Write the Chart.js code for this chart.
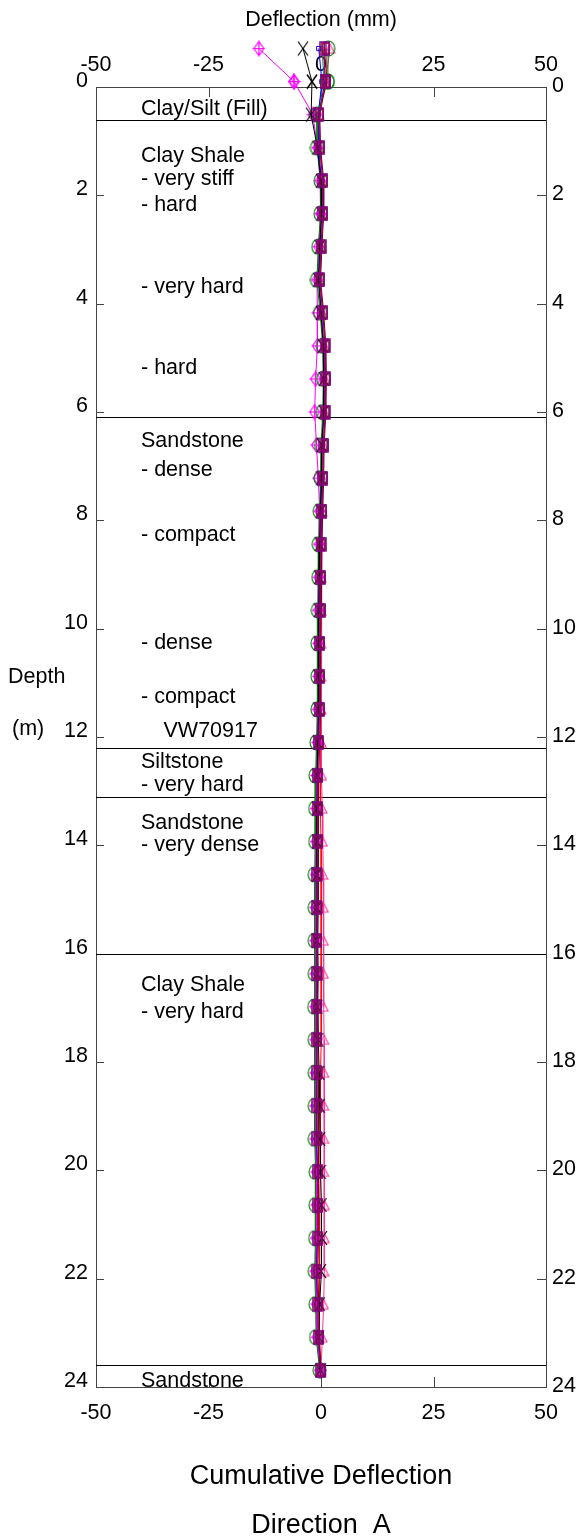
<!DOCTYPE html>
<html><head><meta charset="utf-8">
<script src="https://cdn.jsdelivr.net/npm/chart.js@4.4.1/dist/chart.umd.min.js"></script>
<style>html,body{margin:0;padding:0;background:#fff}#wrap{width:580px;height:1539px}</style>
</head><body><div id="wrap"><canvas id="c" width="580" height="1539"></canvas></div>
<script>
// ---------- data ----------
const depths = [-0.71,-0.10,0.51,1.12,1.73,2.34,2.95,3.56,4.17,4.78,5.39,6.00,6.61,7.22,7.83,8.44,9.05,9.66,10.27,10.88,11.49,12.10,12.71,13.32,13.93,14.54,15.15,15.76,16.37,16.98,17.59,18.20,18.81,19.42,20.03,20.64,21.25,21.86,22.47,23.08,23.69];
const xTickValues = [-50,-25,0,25,50];
const yTickValues = [0,2,4,6,8,10,12,14,16,18,20,22,24];
const layerBoundaries = [0.6,6.1,12.2,13.1,16.0,23.6];
const layerText  = ['Clay/Silt (Fill)','Clay Shale','- very stiff','- hard','- very hard','- hard','Sandstone','- dense','- compact','- dense','- compact','VW70917','Siltstone','- very hard','Sandstone','- very dense','Clay Shale','- very hard','Sandstone'];
const layerTextDepth = [0.51,1.385,1.80,2.29,3.81,5.30,6.65,7.19,8.39,10.38,11.38,12.0,12.58,13.0,13.70,14.10,16.69,17.19,24.0];
const layerTextX = [-40,-40,-40,-40,-40,-40,-40,-40,-40,-40,-40,-35,-40,-40,-40,-40,-40,-40,-40];

const seriesGreen  = [1.6,1.5,-0.9,-0.9,-0.1,-0.1,-0.6,-0.9,-0.2,0.4,0.5,0.4,0.0,-0.1,-0.3,-0.5,-0.6,-0.7,-0.8,-0.8,-0.8,-1.0,-1.2,-1.3,-1.3,-1.4,-1.4,-1.4,-1.4,-1.5,-1.4,-1.4,-1.4,-1.4,-1.2,-1.2,-1.3,-1.4,-1.2,-1.1,-0.3];
const seriesPurple = [0.8,0.9,-0.5,-0.3,0.4,0.4,0.0,-0.3,0.4,0.9,1.0,0.9,0.5,0.4,0.2,0.0,-0.1,-0.2,-0.3,-0.3,-0.3,-0.5,-0.7,-0.8,-0.8,-0.9,-0.9,-0.9,-0.9,-1.0,-0.9,-0.9,-0.9,-0.9,-0.7,-0.7,-0.8,-0.9,-0.7,-0.6,-0.1];
const seriesMaroon = [1.1,1.2,-0.3,-0.1,0.6,0.6,0.2,-0.1,0.6,1.1,1.2,1.1,0.7,0.6,0.4,0.2,0.1,0.0,-0.1,-0.1,-0.1,-0.3,-0.5,-0.6,-0.6,-0.6,-0.6,-0.7,-0.6,-0.7,-0.7,-0.6,-0.6,-0.6,-0.5,-0.5,-0.6,-0.7,-0.5,-0.4,0.0];
const seriesBlack  = [-4.0,-2.0,-2.2,-0.8,0.0,0.1,-0.3,-0.6,0.0,0.5,0.6,0.6,0.2,0.1,-0.1,-0.3,-0.4,-0.5,-0.5,-0.6,-0.6,-0.7,-0.8,-0.9,-0.9,-0.9,-0.9,-0.9,-0.8,-0.8,-0.6,-0.4,-0.3,-0.2,-0.1,0.1,0.2,0.0,-0.3,-0.5,-0.1];
const seriesMagenta= [-13.8,-6.0,-1.8,-0.8,-0.2,-0.1,-0.5,-0.9,-0.8,-0.8,-1.2,-1.4,-1.0,-0.6,-0.3,-0.4,-0.5,-0.6,-0.6,-0.6,-0.7,-0.8,-1.0,-1.1,-1.1,-1.1,-1.2,-1.2,-1.2,-1.3,-1.2,-1.2,-1.2,-1.2,-1.0,-1.0,-1.1,-1.2,-1.0,-0.9,-0.2];
const seriesPink   = [2.0,1.0,-0.4,-0.3,0.3,0.4,0.0,-0.3,0.3,0.8,0.9,0.8,0.5,0.4,0.3,0.2,0.1,0.0,0.0,0.0,0.1,0.1,0.2,0.3,0.4,0.5,0.6,0.6,0.6,0.6,0.7,0.7,0.7,0.7,0.7,0.8,0.8,0.7,0.6,0.3,0.0];
const seriesBlue   = [-0.5,0.2,-0.6,-0.5,0.1,0.2,-0.2,-0.4,0.2,0.7,0.7,0.7,0.3,0.2,0.0,-0.2,-0.3,-0.4,-0.5,-0.5,-0.5,-0.7,-0.9,-1.0,-1.0,-1.1,-1.1,-1.1,-1.1,-1.2,-1.1,-1.1,-1.1,-1.1,-0.9,-0.9,-1.0,-1.1,-0.9,-0.8,-0.2];
const seriesTeal   = [0.3,0.6,-0.8,-0.6,0.0,0.1,-0.3,-0.5,0.1,0.6,0.7,0.6,0.2,0.1,-0.1,-0.3,-0.4,-0.5,-0.6,-0.6,-0.6,-0.8,-1.0,-1.1,-1.1,-1.2,-1.2,-1.2,-1.2,-1.3,-1.2,-1.2,-1.2,-1.2,-1.0,-1.0,-1.1,-1.2,-1.0,-0.9,-0.2];
const seriesRed    = [0.6,0.9,-0.4,-0.2,0.4,0.5,0.1,-0.2,0.4,0.9,1.0,0.9,0.5,0.4,0.2,0.1,0.0,-0.1,-0.1,-0.1,-0.1,-0.2,-0.2,-0.1,0.0,0.0,0.1,0.1,0.1,0.0,0.0,-0.1,-0.1,-0.2,-0.2,-0.3,-0.3,-0.4,-0.4,-0.3,0.0];

// ---------- markers ----------
const FONT = '"Liberation Sans", Arial, Helvetica, sans-serif';
function marker(w,h,draw){const c=document.createElement('canvas');c.width=w;c.height=h;const g=c.getContext('2d');draw(g,w,h);return c;}
const mDiamondPlus = marker(13,17,(g,w,h)=>{g.strokeStyle='#FF00FF';g.lineWidth=1.2;g.beginPath();g.moveTo(w/2,1.5);g.lineTo(w-1.5,h/2);g.lineTo(w/2,h-1.5);g.lineTo(1.5,h/2);g.closePath();g.stroke();g.beginPath();g.moveTo(w/2,0.5);g.lineTo(w/2,h-0.5);g.moveTo(0.5,h/2);g.lineTo(w-0.5,h/2);g.stroke();});
const mX = marker(12,16,(g,w,h)=>{g.strokeStyle='#000';g.lineWidth=1.2;g.beginPath();g.moveTo(1,1);g.lineTo(w-1,h-1);g.moveTo(w-1,1);g.lineTo(1,h-1);g.stroke();});
const mRect = (col,w,h)=>marker(w,h,(g)=>{g.strokeStyle=col;g.lineWidth=1.5;g.strokeRect(1,1,w-2,h-2);g.beginPath();g.moveTo(w/2,1);g.lineTo(w/2,h-1);g.stroke();});
const mEllipse = marker(15,17,(g,w,h)=>{g.strokeStyle='#008000';g.lineWidth=1.1;g.beginPath();g.ellipse(w/2,h/2,w/2-1,h/2-1,0,0,Math.PI*2);g.stroke();});
const mTri = marker(11,11,(g,w,h)=>{g.strokeStyle='#FF3399';g.lineWidth=1.1;g.beginPath();g.moveTo(w/2,1);g.lineTo(w-1,h-1);g.lineTo(1,h-1);g.closePath();g.stroke();});

function ds(label,vals,color,extra){
  return Object.assign({label,data:vals.map((v,i)=>({x:v,y:depths[i]})),borderColor:color,backgroundColor:'rgba(0,0,0,0)',
    pointBorderColor:color,borderWidth:1,pointBorderWidth:1,showLine:true,clip:false,xAxisID:'x',yAxisID:'y'},extra);
}
const datasets = [
  ds('D',seriesPurple,'#800080',{pointStyle:mRect('#800080',11,15),pointRadius:7}),
  ds('E',seriesMaroon,'#800000',{pointStyle:mRect('#99004d',9,13),pointRadius:6}),
  ds('B',seriesBlack,'#000000',{pointStyle:mX,pointRadius:7}),
  ds('I',seriesGreen,'#008000',{pointStyle:mEllipse,pointRadius:8}),
  ds('A',seriesMagenta,'#FF00FF',{pointStyle:mDiamondPlus,pointRadius:7}),
  ds('C',seriesPink,'#FF3399',{pointStyle:mTri,pointRadius:6}),
  ds('F',seriesRed,'#FF0000',{pointRadius:0}),
  ds('G',seriesBlue,'#0000FF',{pointStyle:'rect',pointRadius:3}),
  ds('H',seriesTeal,'#008080',{pointStyle:'circle',pointRadius:2}),
];

const tickFont = {family:FONT,size:21.5};
const deco = {
  id:'deco',
  beforeDatasetsDraw(chart){
    const {ctx,chartArea:a,scales:{x,y}} = chart;
    ctx.save();
    ctx.strokeStyle='#444';ctx.lineWidth=1;ctx.beginPath();
    yTickValues.forEach(v=>{const py=Math.round(y.getPixelForValue(v))+0.5;ctx.moveTo(a.left,py);ctx.lineTo(a.left+8,py);ctx.moveTo(a.right-9,py);ctx.lineTo(a.right,py);});
    xTickValues.forEach(v=>{const px=Math.round(x.getPixelForValue(v))+0.5;ctx.moveTo(px,a.top);ctx.lineTo(px,a.top+10);ctx.moveTo(px,a.bottom-10);ctx.lineTo(px,a.bottom);});
    ctx.stroke();
    ctx.strokeStyle='#000';ctx.beginPath();
    layerBoundaries.forEach(d=>{const py=Math.round(y.getPixelForValue(d))+0.5;ctx.moveTo(a.left,py);ctx.lineTo(a.right,py);});
    ctx.stroke();
    ctx.beginPath();ctx.rect(a.left,a.top,a.right-a.left,a.bottom-a.top);ctx.clip();
    ctx.fillStyle='#000';ctx.font='21.5px '+FONT;ctx.textAlign='left';ctx.textBaseline='alphabetic';
    layerText.forEach((t,i)=>ctx.fillText(t,x.getPixelForValue(layerTextX[i]),y.getPixelForValue(layerTextDepth[i])));
    ctx.restore();
  },
  afterDatasetsDraw(chart){
    // points lying above the plot frame (Chart.js skips them); drawn with the library's own point elements
    const {ctx,chartArea:a} = chart;
    const big = {left:-1e5,top:-1e5,right:1e5,bottom:1e5};
    const metas = chart.getSortedVisibleDatasetMetas();
    for (let k=metas.length-1;k>=0;k--){
      metas[k].data.forEach(pt=>{ if (pt.y < a.top - 4) pt.draw(ctx,big); });
    }
  },
  afterDraw(chart){
    const {ctx} = chart;
    ctx.save();ctx.fillStyle='#000';ctx.textBaseline='alphabetic';
    ctx.font='21.5px '+FONT;ctx.textAlign='left';
    ctx.fillText('Depth',8,683);
    ctx.fillText('(m)',12,735);
    ctx.font='27px '+FONT;ctx.textAlign='center';
    ctx.fillText('Cumulative Deflection',321,1484);
    ctx.fillText('Direction  A',321,1533);
    ctx.restore();
  }
};

new Chart(document.getElementById('c'),{
  type:'scatter',
  data:{datasets},
  options:{
    responsive:false,animation:false,devicePixelRatio:1,
    layout:{padding:0},
    plugins:{legend:{display:false},tooltip:{enabled:false}},
    scales:{
      x:{type:'linear',position:'bottom',min:-50,max:50,
         ticks:{stepSize:25,padding:13,color:'#000',font:tickFont,maxRotation:0},
         grid:{display:false,drawTicks:false},border:{display:true,color:'#444',width:1},
         afterFit(s){s.height=152;}},
      x2:{type:'linear',position:'top',min:-50,max:50,
         ticks:{stepSize:25,padding:9,color:'#000',font:tickFont,maxRotation:0},
         grid:{display:false,drawTicks:false},border:{display:true,color:'#444',width:1},
         title:{display:true,text:'Deflection (mm)',color:'#000',font:tickFont,padding:{top:7,bottom:0}},
         afterFit(s){s.height=87;}},
      y:{type:'linear',position:'left',min:0,max:24,reverse:true,
         ticks:{stepSize:2,padding:8,labelOffset:-6,color:'#000',font:tickFont},
         grid:{display:false,drawTicks:false},border:{display:true,color:'#444',width:1},
         afterFit(s){s.width=96;}},
      y2:{type:'linear',position:'right',min:0,max:24,reverse:true,
         ticks:{stepSize:2,padding:6,labelOffset:-1,color:'#000',font:tickFont},
         grid:{display:false,drawTicks:false},border:{display:true,color:'#444',width:1},
         afterFit(s){s.width=34;}}
    }
  },
  plugins:[deco]
});
</script></body></html>
